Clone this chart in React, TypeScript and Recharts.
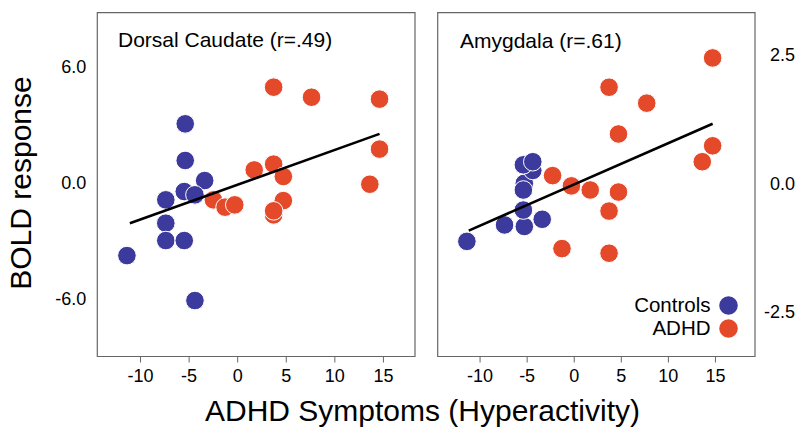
import React from 'react'
import {
  ScatterChart, Scatter, XAxis, YAxis, ReferenceArea,
} from 'recharts'

// Two panels: BOLD response vs hyperactivity symptoms, per region.

const BLUE = '#3c3a9c'
const RED = '#e4492a'
const FONT = '"Liberation Sans", Arial, Helvetica, sans-serif'

const xTicks = [-10, -5, 0, 5, 10, 15]
const caudateTicks = [-6, 0, 6]
const amygdalaTicks = [-2.5, 0, 2.5]

const groups = [
  { name: 'Controls', color: BLUE },
  { name: 'ADHD', color: RED },
]

// Dorsal caudate
const caudateControls = [
  { x: -5.4, y: 3.06 }, { x: -5.4, y: 1.16 }, { x: -3.4, y: 0.12 }, { x: -5.5, y: -0.45 },
  { x: -4.4, y: -0.62 }, { x: -7.4, y: -0.88 }, { x: -7.4, y: -2.09 }, { x: -7.4, y: -2.99 },
  { x: -5.5, y: -2.99 }, { x: -11.4, y: -3.77 }, { x: -4.4, y: -6.1 },
]
const caudateAdhd = [
  { x: 3.7, y: 4.96 }, { x: 7.6, y: 4.44 }, { x: 14.6, y: 4.34 }, { x: 14.6, y: 1.75 },
  { x: 13.6, y: -0.07 }, { x: 1.7, y: 0.67 }, { x: 3.7, y: 0.97 }, { x: 4.7, y: 0.33 },
  { x: 4.7, y: -0.92 }, { x: 3.7, y: -1.66 }, { x: 3.7, y: -1.45 }, { x: -2.5, y: -0.88 },
  { x: -1.3, y: -1.26 }, { x: -0.3, y: -1.14 },
]
const caudateFit = [{ x: -11.1, y: -2.09 }, { x: 14.6, y: 2.54 }]

// Amygdala
const amygdalaControls = [
  { x: -11.4, y: -1.13 }, { x: -7.4, y: -0.81 }, { x: -5.3, y: -0.84 }, { x: -3.4, y: -0.7 },
  { x: -5.4, y: -0.52 }, { x: -5.3, y: 0.0 }, { x: -5.4, y: -0.13 }, { x: -4.4, y: 0.25 },
  { x: -5.4, y: 0.36 }, { x: -4.4, y: 0.42 },
]
const amygdalaAdhd = [
  { x: 14.7, y: 2.44 }, { x: 3.7, y: 1.87 }, { x: 7.7, y: 1.56 }, { x: 4.7, y: 0.96 },
  { x: 14.7, y: 0.73 }, { x: 13.6, y: 0.42 }, { x: -2.3, y: 0.15 }, { x: -0.3, y: -0.05 },
  { x: 1.7, y: -0.13 }, { x: 4.7, y: -0.17 }, { x: 3.7, y: -0.54 }, { x: -1.3, y: -1.27 },
  { x: 3.7, y: -1.36 },
]
const amygdalaFit = [{ x: -11.2, y: -0.92 }, { x: 14.7, y: 1.16 }]

const caudateX: [number, number] = [-14.45, 18.25]
const caudateY: [number, number] = [-9.0, 8.82]
const amygdalaX: [number, number] = [-14.5, 19.2]
const amygdalaY: [number, number] = [-3.37, 3.32]

const dot = (color: string) => (p: any) => (
  <circle cx={p.cx} cy={p.cy} r={9.3} fill={color} stroke="#fff" strokeWidth={1} />
)
const noDot = () => <g />

const tickStyle = { fill: '#000', fontSize: 18, fontFamily: FONT }

const RightTick = ({ x, y, payload }: any) => (
  <text x={x} y={y} dy="0.36em" textAnchor="end" {...tickStyle}>
    {Number(payload.value).toFixed(1)}
  </text>
)

const W = 801
const H = 432
const overlay: React.CSSProperties = { position: 'absolute', left: 0, top: 0 }

export default function App() {
  return (
    <div style={{ position: 'absolute', left: 0, top: 0, width: W, height: H, background: '#fff', fontFamily: FONT }}>
      {/* left panel */}
      <div style={overlay}>
        <ScatterChart width={W} height={H} margin={{ top: 12.7, right: W - 415, bottom: 35.5, left: 57.3 }}>
          <XAxis
            type="number" dataKey="x" domain={caudateX} ticks={xTicks} allowDataOverflow
            height={40} axisLine={false} tickSize={6} tickMargin={7}
            tickLine={{ stroke: '#666' }} tick={tickStyle}
          />
          <YAxis
            type="number" dataKey="y" domain={caudateY} ticks={caudateTicks} allowDataOverflow
            width={40} axisLine={false} tickLine={false} tickSize={0} tickMargin={11}
            tick={tickStyle} tickFormatter={(v: number) => v.toFixed(1)}
          />
          <ReferenceArea
            x1={caudateX[0]} x2={caudateX[1]} y1={caudateY[0]} y2={caudateY[1]}
            fill="none" stroke="#666" strokeWidth={1.2} ifOverflow="visible"
          />
          <Scatter data={caudateControls} shape={dot(BLUE)} isAnimationActive={false} />
          <Scatter data={caudateAdhd} shape={dot(RED)} isAnimationActive={false} />
          <Scatter
            data={caudateFit} shape={noDot} line={{ stroke: '#000', strokeWidth: 2.6 }}
            isAnimationActive={false}
          />
        </ScatterChart>
      </div>

      {/* right panel */}
      <div style={overlay}>
        <ScatterChart width={W} height={H} margin={{ top: 12.7, right: 0, bottom: 35.5, left: 437.7 }}>
          <XAxis
            type="number" dataKey="x" domain={amygdalaX} ticks={xTicks} allowDataOverflow
            height={40} axisLine={false} tickSize={6} tickMargin={7}
            tickLine={{ stroke: '#666' }} tick={tickStyle}
          />
          <YAxis
            type="number" dataKey="y" domain={amygdalaY} ticks={amygdalaTicks} allowDataOverflow
            orientation="right" width={46} axisLine={false} tickLine={false}
            tickSize={0} tickMargin={40} tick={<RightTick />}
          />
          <ReferenceArea
            x1={amygdalaX[0]} x2={amygdalaX[1]} y1={amygdalaY[0]} y2={amygdalaY[1]}
            fill="none" stroke="#666" strokeWidth={1.2} ifOverflow="visible"
          />
          <Scatter name="Controls" data={amygdalaControls} shape={dot(BLUE)} isAnimationActive={false} />
          <Scatter name="ADHD" data={amygdalaAdhd} shape={dot(RED)} isAnimationActive={false} />
          <Scatter
            data={amygdalaFit} shape={noDot}
            line={{ stroke: '#000', strokeWidth: 2.6 }} isAnimationActive={false}
          />
        </ScatterChart>
      </div>

      {/* group key, inside the amygdala panel */}
      <div style={{ position: 'absolute', left: 600, top: 293.5, width: 137.5, fontSize: 20.5, color: '#000' }}>
        {groups.map(g => (
          <div key={g.name} style={{ display: 'flex', justifyContent: 'flex-end', alignItems: 'center', height: 23 }}>
            <span style={{ marginRight: 8 }}>{g.name}</span>
            <svg width={19} height={19}>
              <circle cx={9.5} cy={9.5} r={9.3} fill={g.color} />
            </svg>
          </div>
        ))}
      </div>

      {/* panel titles and shared axis titles */}
      <div style={{ position: 'absolute', left: 118, top: 29, fontSize: 21, lineHeight: '21px', whiteSpace: 'nowrap' }}>
        Dorsal Caudate (r=.49)
      </div>
      <div style={{ position: 'absolute', left: 460, top: 30, fontSize: 21, lineHeight: '21px', whiteSpace: 'nowrap' }}>
        Amygdala (r=.61)
      </div>
      <div style={{ position: 'absolute', left: 0, width: 845, top: 395, fontSize: 30, lineHeight: '32px', textAlign: 'center', whiteSpace: 'nowrap' }}>
        ADHD Symptoms (Hyperactivity)
      </div>
      <div
        style={{
          position: 'absolute', left: 21 - 150, top: 183 - 16, width: 300, height: 32,
          fontSize: 30, lineHeight: '32px', textAlign: 'center', transform: 'rotate(-90deg)', whiteSpace: 'nowrap',
        }}
      >
        BOLD response
      </div>
    </div>
  )
}
